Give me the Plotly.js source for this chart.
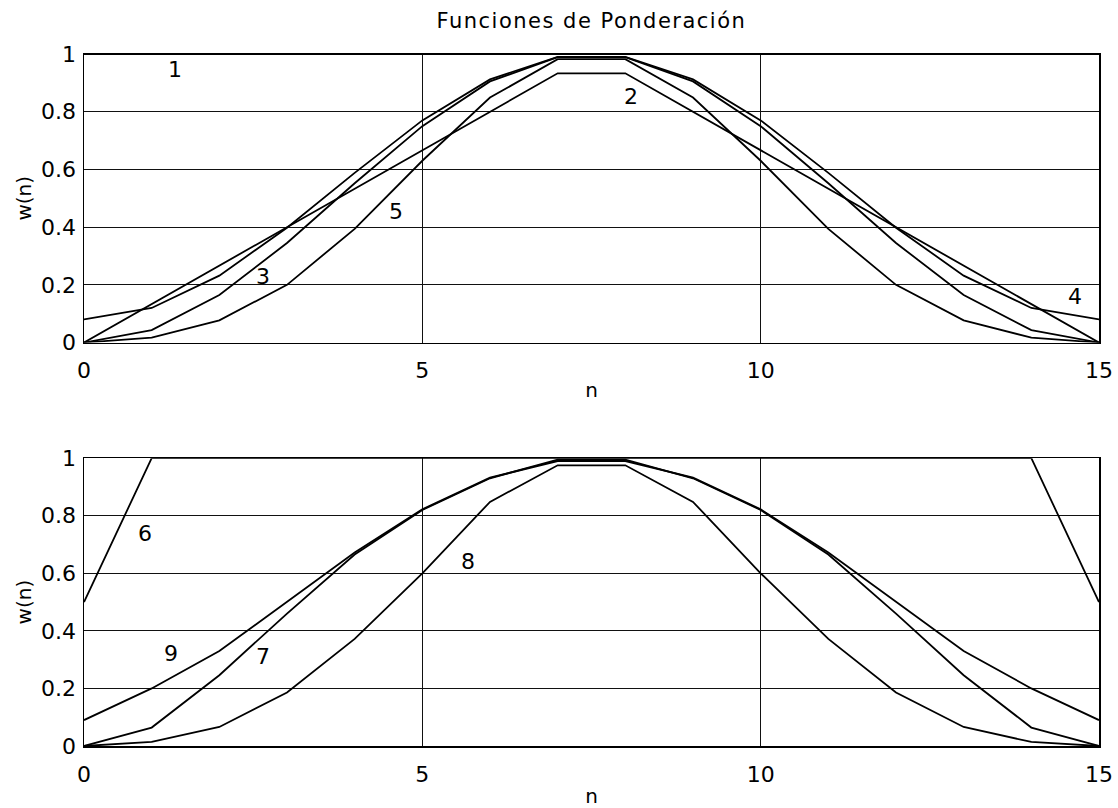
<!DOCTYPE html>
<html>
<head>
<meta charset="utf-8">
<script src="https://cdn.plot.ly/plotly-3.0.1.min.js"></script>
<style>
  html, body { margin: 0; padding: 0; background: #fff; }
  #chart { width: 1118px; height: 808px; }
  .gtitle { letter-spacing: 1.5px; }
</style>
</head>
<body>
<div id="chart"></div>
<script>
// Sample index
const n = [0, 1, 2, 3, 4, 5, 6, 7, 8, 9, 10, 11, 12, 13, 14, 15];

// Upper panel: windows 1-5
const w1 = [1, 1, 1, 1, 1, 1, 1, 1, 1, 1, 1, 1, 1, 1, 1, 1];
const w2 = [0, 0.133, 0.267, 0.4, 0.533, 0.667, 0.8, 0.933, 0.933, 0.8, 0.667, 0.533, 0.4, 0.267, 0.133, 0];
const w3 = [0, 0.043, 0.165, 0.345, 0.552, 0.75, 0.905, 0.989, 0.989, 0.905, 0.75, 0.552, 0.345, 0.165, 0.043, 0];
const w4 = [0.08, 0.12, 0.232, 0.398, 0.588, 0.77, 0.912, 0.99, 0.99, 0.912, 0.77, 0.588, 0.398, 0.232, 0.12, 0.08];
const w5 = [0, 0.017, 0.077, 0.2, 0.394, 0.63, 0.849, 0.982, 0.982, 0.849, 0.63, 0.394, 0.2, 0.077, 0.017, 0];

// Lower panel: windows 6-9
const w6 = [0.5, 1, 1, 1, 1, 1, 1, 1, 1, 1, 1, 1, 1, 1, 1, 0.5];
const w7 = [0, 0.064, 0.246, 0.46, 0.665, 0.82, 0.93, 0.995, 0.995, 0.93, 0.82, 0.665, 0.46, 0.246, 0.064, 0];
const w8 = [0, 0.014, 0.066, 0.186, 0.372, 0.6, 0.848, 0.975, 0.975, 0.848, 0.6, 0.372, 0.186, 0.066, 0.014, 0];
const w9 = [0.09, 0.2, 0.33, 0.5, 0.672, 0.822, 0.932, 0.99, 0.99, 0.932, 0.822, 0.672, 0.5, 0.33, 0.2, 0.09];

// Tick labels
const xTicks = [0, 5, 10, 15];
const yTicks = [0, 0.2, 0.4, 0.6, 0.8, 1];
const yTickText = ['0', '0.2', '0.4', '0.6', '0.8', '1'];

const FONT = 'DejaVu Sans, Arial, sans-serif';
const line = { color: '#000', width: 1.8 };

function trace(y, xa, ya) {
  return { x: n, y: y, xaxis: xa, yaxis: ya, type: 'scatter', mode: 'lines',
           line: line, cliponaxis: true, hoverinfo: 'skip' };
}

const data = [
  trace(w1, 'x', 'y'), trace(w2, 'x', 'y'), trace(w3, 'x', 'y'),
  trace(w4, 'x', 'y'), trace(w5, 'x', 'y'),
  trace(w6, 'x2', 'y2'), trace(w7, 'x2', 'y2'),
  trace(w8, 'x2', 'y2'), trace(w9, 'x2', 'y2')
];

function xAxis(anchor, standoff) {
  return {
    anchor: anchor, range: [0, 15], tickmode: 'array', tickvals: xTicks,
    ticks: '', ticklabelstandoff: 8,
    showgrid: true, gridcolor: '#111', gridwidth: 1.2,
    showline: true, linecolor: '#000', linewidth: 1.5, mirror: true,
    zeroline: false,
    tickfont: { family: FONT, size: 22, color: '#000' },
    title: { text: 'n', font: { family: FONT, size: 20, color: '#000' }, standoff: standoff }
  };
}
function yAxis(anchor, domain) {
  return {
    anchor: anchor, domain: domain, range: [0, 1], tickmode: 'array',
    tickvals: yTicks, ticktext: yTickText,
    ticks: '', ticklabelstandoff: 2,
    showgrid: true, gridcolor: '#111', gridwidth: 1.2,
    showline: true, linecolor: '#000', linewidth: 1.5, mirror: true,
    zeroline: false,
    tickfont: { family: FONT, size: 22, color: '#000' },
    title: { text: 'w(n)', font: { family: FONT, size: 20, color: '#000' }, standoff: 4 }
  };
}

function label(text, x, y, xref, yref) {
  return { text: text, x: x, y: y, xref: xref, yref: yref, showarrow: false,
           font: { family: FONT, size: 22, color: '#000' } };
}

const layout = {
  width: 1118, height: 808,
  margin: { l: 84, r: 19, t: 54, b: 62, pad: 0 },
  paper_bgcolor: '#fff', plot_bgcolor: '#fff',
  showlegend: false,
  title: { text: 'Funciones de Ponderación', x: 0.529, xanchor: 'center', y: 0.975, yanchor: 'middle',
           font: { family: FONT, size: 21, color: '#000' } },
  xaxis: xAxis('y', 0),
  yaxis: yAxis('x', [0.583, 1]),
  xaxis2: xAxis('y2', 6),
  yaxis2: yAxis('x2', [0, 0.416]),
  annotations: [
    label('1', 1.34, 0.945, 'x', 'y'),
    label('2', 8.09, 0.852, 'x', 'y'),
    label('3', 2.65, 0.228, 'x', 'y'),
    label('4', 14.64, 0.159, 'x', 'y'),
    label('5', 4.61, 0.453, 'x', 'y'),
    label('6', 0.9, 0.738, 'x2', 'y2'),
    label('7', 2.64, 0.31, 'x2', 'y2'),
    label('8', 5.67, 0.64, 'x2', 'y2'),
    label('9', 1.29, 0.321, 'x2', 'y2')
  ]
};

Plotly.newPlot('chart', data, layout, { staticPlot: true, displayModeBar: false });
</script>
</body>
</html>
